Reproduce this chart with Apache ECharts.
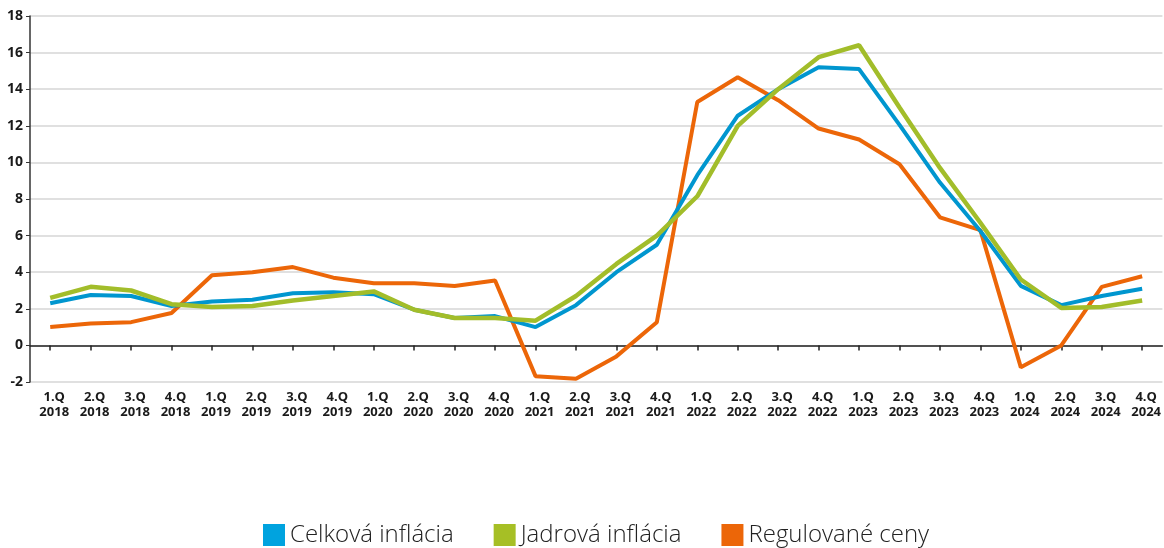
<!DOCTYPE html>
<html>
<head>
<meta charset="utf-8">
<script src="https://cdn.jsdelivr.net/npm/echarts@6/dist/echarts.min.js"></script>
<style>
html, body { margin: 0; padding: 0; background: #fff; }
#chart { width: 1164px; height: 548px; }
</style>
</head>
<body>
<div id="chart"></div>
<script>
// kategórie (štvrťroky)
var quarters = ['1.Q\n2018','2.Q\n2018','3.Q\n2018','4.Q\n2018',
	'1.Q\n2019','2.Q\n2019','3.Q\n2019','4.Q\n2019',
	'1.Q\n2020','2.Q\n2020','3.Q\n2020','4.Q\n2020',
	'1.Q\n2021','2.Q\n2021','3.Q\n2021','4.Q\n2021',
	'1.Q\n2022','2.Q\n2022','3.Q\n2022','4.Q\n2022',
	'1.Q\n2023','2.Q\n2023','3.Q\n2023','4.Q\n2023',
	'1.Q\n2024','2.Q\n2024','3.Q\n2024','4.Q\n2024'];

var celkova = [2.3, 2.75, 2.7, 2.15, 2.4, 2.5, 2.85, 2.9, 2.8, 1.95, 1.5, 1.6,
	1.0, 2.2, 4.0, 5.5, 9.3, 12.55, 14.0, 15.2, 15.1, 12.05, 8.9, 6.25,
	3.25, 2.2, 2.7, 3.1];

var jadrova = [2.6, 3.2, 3.0, 2.25, 2.1, 2.15, 2.45, 2.7, 2.95, 1.95, 1.5, 1.5,
	1.35, 2.7, 4.45, 6.0, 8.15, 12.0, 14.0, 15.75, 16.4, 13.0, 9.7, 6.7,
	3.6, 2.05, 2.1, 2.45];

var regulovane = [1.0, 1.2, 1.27, 1.77, 3.83, 4.0, 4.28, 3.7, 3.4, 3.4, 3.25, 3.55,
	-1.68, -1.82, -0.6, 1.27, 13.3, 14.65, 13.4, 11.85, 11.25, 9.9, 7.0, 6.3,
	-1.2, 0.0, 3.2, 3.78];

var names = ['Celková inflácia', 'Jadrová inflácia', 'Regulované ceny'];
var colors = ['#0096cf', '#a2bd2a', '#ec6608'];

var chart = echarts.init(document.getElementById('chart'));

var option = {
	animation: false,
	color: colors,
	grid: { left: 30, right: 0, top: 16, bottom: 166 },
	legend: {
		top: 522,
		left: 263,
		padding: 0,
		itemWidth: 22,
		itemHeight: 22,
		itemGap: 40,
		icon: 'rect',
		textStyle: {
			fontFamily: 'Open Sans', fontWeight: 300, fontSize: 24, color: '#222',
			lineHeight: 22, padding: [0, 0, 4, 0]
		},
		data: [
			{ name: names[0], itemStyle: { color: '#00a3df' } },
			{ name: names[1], itemStyle: { color: '#a6bf25' } },
			{ name: names[2], itemStyle: { color: '#ec6608' } }
		]
	},
	xAxis: [{
		type: 'category',
		data: quarters,
		position: 'bottom',
		axisLine: { show: false, onZero: false },
		axisTick: { show: false },
		axisLabel: {
			interval: 0,
			margin: 8,
			padding: [0, 0, 0, 8],
			fontFamily: 'Open Sans',
			fontWeight: 'bold',
			fontSize: 13,
			lineHeight: 15,
			color: '#1a1a1a'
		}
	}, {
		type: 'category',
		data: quarters,
		position: 'bottom',
		axisLine: { show: true, onZero: true, lineStyle: { color: '#222', width: 1.5 } },
		axisTick: { show: true, alignWithLabel: true, length: 5, lineStyle: { color: '#222', width: 1.5 } },
		axisLabel: { show: false }
	}],
	yAxis: {
		type: 'value',
		min: -2,
		max: 18,
		interval: 2,
		axisLine: { show: true, lineStyle: { color: '#333', width: 1.5 } },
		axisTick: { show: true, length: 4, lineStyle: { color: '#333' } },
		axisLabel: {
			margin: 7,
			fontFamily: 'Open Sans',
			fontWeight: 'bold',
			fontSize: 14,
			color: '#1a1a1a'
		},
		splitLine: { lineStyle: { color: '#d6d6d6', width: 1.5 } }
	},
	series: [{
		name: names[0],
		type: 'line',
		data: celkova,
		showSymbol: false,
		lineStyle: { width: 4 },
		z: 3
	}, {
		name: names[1],
		type: 'line',
		data: jadrova,
		showSymbol: false,
		lineStyle: { width: 4.5 },
		z: 4
	}, {
		name: names[2],
		type: 'line',
		data: regulovane,
		showSymbol: false,
		lineStyle: { width: 4 },
		z: 2
	}]
};
chart.setOption(option);
</script>
</body>
</html>
